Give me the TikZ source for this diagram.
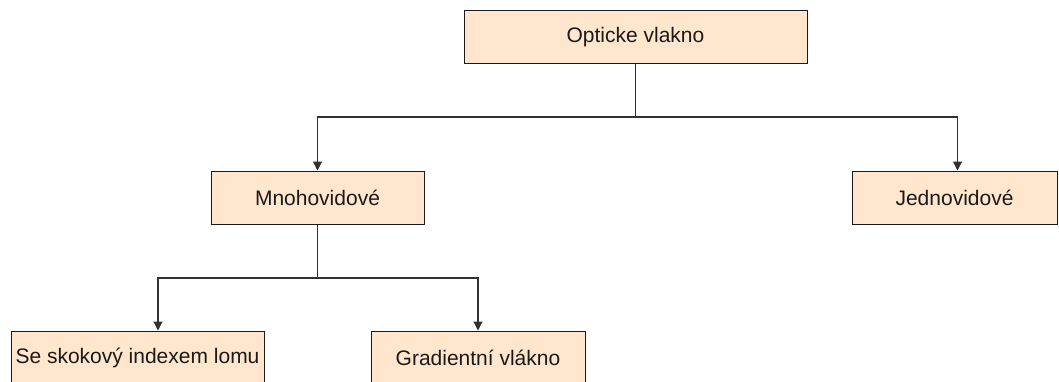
\documentclass[tikz,border=0pt]{standalone}
\usepackage{fontspec}
\setmainfont{Liberation Sans}
\usetikzlibrary{arrows.meta,calc}
\definecolor{boxfill}{HTML}{FFE6CC}
\definecolor{ink}{HTML}{1A1A1A}
\begin{document}
\begin{tikzpicture}[x=1pt,y=-1pt,
  box/.style={draw=ink, line width=1pt, fill=boxfill, inner sep=0pt,
    minimum height=53pt, text=ink, font=\fontsize{21}{25}\selectfont},
  link/.style={draw=ink!90, line width=1.1pt},
  arr/.style={link, -{Triangle[length=9pt,width=9pt]}}]
\useasboundingbox (0,0) rectangle (1059,381);

% tree nodes
\node[box, minimum width=343pt] (top) at (635.5,37)    {Opticke vlakno};
\node[box, minimum width=213pt] (mno) at (317.5,197.5) {Mnohovidové};
\node[box, minimum width=205pt] (jed) at (954.5,197.5) {Jednovidové};
\node[box, minimum width=253pt] (se)  at (137.5,357.5) {Se skokový indexem lomu};
\node[box, minimum width=214pt] (gr)  at (478,357.5)   {Gradientní vlákno};

% branching points
\coordinate (b1) at (635.5,117);
\coordinate (b2) at (317.5,278);

% connectors
\draw[link] (top.south) -- (b1);
\draw[arr]  (b1) -| (mno.north);
\draw[arr]  (b1) -| ([xshift=3pt]jed.north);
\draw[link] (mno.south) -- (b2);
\draw[arr]  (b2) -| ([xshift=20.5pt]se.north);
\draw[arr]  (b2) -| (gr.north);
\end{tikzpicture}
\end{document}
